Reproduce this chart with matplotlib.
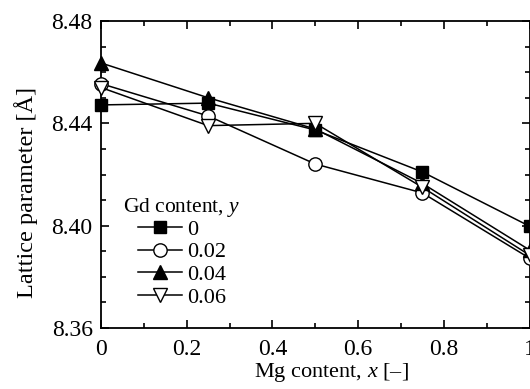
import numpy as np
import matplotlib
matplotlib.use('Agg')
import matplotlib.pyplot as plt
from matplotlib.ticker import MultipleLocator

plt.rcParams['font.family'] = ['Liberation Serif', 'DejaVu Serif']
plt.rcParams['mathtext.fontset'] = 'custom'
plt.rcParams['mathtext.rm'] = 'Liberation Serif'
plt.rcParams['mathtext.it'] = 'Liberation Serif:italic'

# Mg content x
mg = [0, 0.25, 0.5, 0.75, 1.0]

# Lattice parameter for each Gd content y
gd_labels = ['0', '0.02', '0.04', '0.06']
a_y000 = [8.4472, 8.4479, 8.4374, 8.4210, 8.3998]
a_y002 = [8.4555, 8.4429, 8.4241, 8.4128, 8.3873]
a_y004 = [8.4636, 8.4500, 8.4378, 8.4165, 8.3905]
a_y006 = [8.4540, 8.4391, 8.4400, 8.4150, 8.3885]

series = [a_y000, a_y002, a_y004, a_y006]
markers = ['s', 'o', '^', 'v']
faces = ['black', 'white', 'black', 'white']
sizes = [9.3, 9.6, 10, 10]

W, H = 530, 389
fig = plt.figure(figsize=(W / 100, H / 100), dpi=100)
ax = fig.add_axes([101 / W, 1 - 328 / H, 428.5 / W, 307 / H])

lines = []
for vals, lab, m, fc, ms in zip(series, gd_labels, markers, faces, sizes):
    ln, = ax.plot(mg, vals, color='black', lw=1.1, marker=m, ms=ms,
                  mfc=fc, mec='black', mew=1.0, label=lab, clip_on=False, zorder=3)
    lines.append(ln)

ax.set_xlim(0, 1)
ax.set_ylim(8.36, 8.48)
ax.xaxis.set_minor_locator(MultipleLocator(0.1))
ax.yaxis.set_minor_locator(MultipleLocator(0.01))
ax.set_xticks([0, 0.2, 0.4, 0.6, 0.8, 1.0])
ax.set_xticklabels(['0', '0.2', '0.4', '0.6', '0.8', '1'])
ax.set_yticks([8.36, 8.40, 8.44, 8.48])
ax.set_yticklabels(['8.36', '8.40', '8.44', '8.48'])
ax.tick_params(which='both', direction='in', top=True, right=True,
               labelsize=17, width=1.2)
ax.tick_params(axis='x', pad=8)
ax.tick_params(axis='y', pad=6)
ax.tick_params(which='major', length=6)
ax.tick_params(which='minor', length=3.8)
for sp in ax.spines.values():
    sp.set_linewidth(1.3)

fig.text(331 / W, 1 - 373 / H, r'Mg content, $x$ [–]', fontsize=16,
         ha='center', va='center')
fig.text(26 / W, 1 - 192 / H, 'Lattice parameter [Å]', fontsize=17.5,
         ha='center', va='center', rotation=90)

fig.text(123 / W, 1 - 208 / H, r'Gd content, $y$', fontsize=15.5,
         ha='left', va='center')
ax.legend(handles=lines, loc='upper left',
          bbox_to_anchor=(138 / W, 1 - 219 / H), bbox_transform=fig.transFigure,
          frameon=False, fontsize=16, handlelength=2.0, handletextpad=0.2,
          labelspacing=0.1, borderpad=0, borderaxespad=0)

fig.savefig('out.png', dpi=100)
